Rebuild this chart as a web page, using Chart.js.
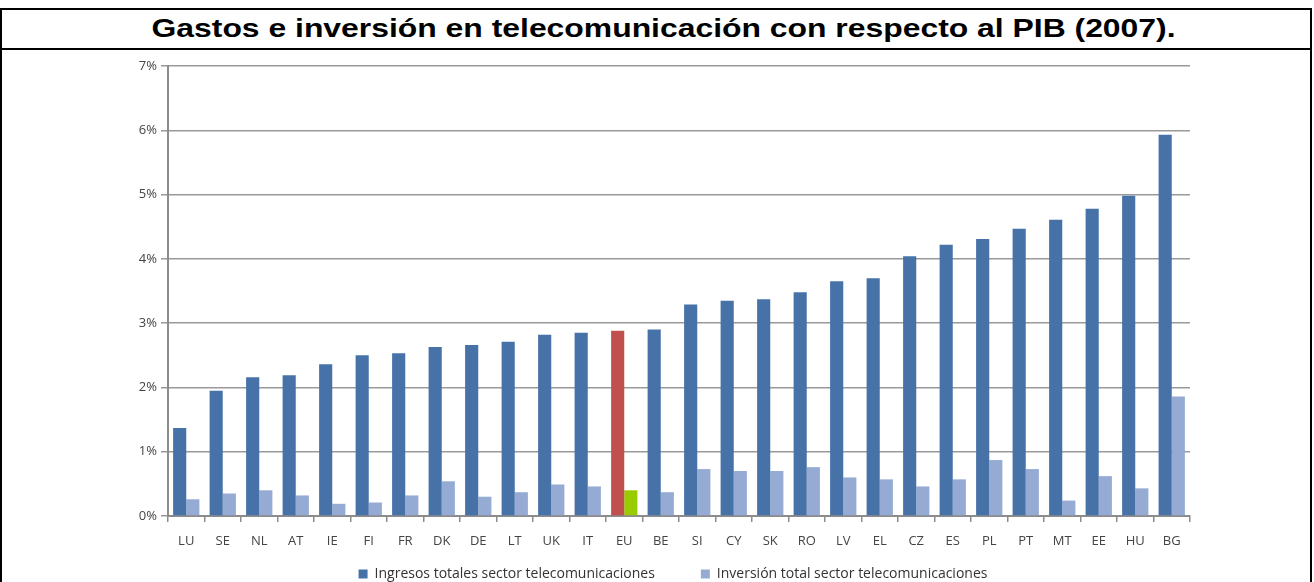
<!DOCTYPE html>
<html>
<head>
<meta charset="utf-8">
<script src="https://cdn.jsdelivr.net/npm/chart.js@4.4.1/dist/chart.umd.min.js"></script>
<style>
    html, body { margin: 0; padding: 0; background: #fff; }
    body { width: 1314px; height: 582px; position: relative; overflow: hidden; }
    #frame {
        position: absolute; left: 0; top: 8px; width: 1308px; height: 600px;
        border: 2px solid #000; box-sizing: content-box;
    }
    #title {
        height: 38px; border-bottom: 2px solid #000; text-align: center;
        font: bold 25px "Liberation Sans", Arial, sans-serif; line-height: 36px; color: #000;
    }
    #title span { display: inline-block; transform-origin: center; }
    #chart { position: absolute; left: 0; top: 0; }
</style>
</head>
<body>
<div id="frame"><div id="title"><span id="titleText">Gastos e inversión en telecomunicación con respecto al PIB (2007).</span></div></div>
<canvas id="chart" width="1314" height="582"></canvas>
<script>
const countries = ['LU', 'SE', 'NL', 'AT', 'IE', 'FI', 'FR', 'DK', 'DE', 'LT', 'UK', 'IT', 'EU', 'BE',
    'SI', 'CY', 'SK', 'RO', 'LV', 'EL', 'CZ', 'ES', 'PL', 'PT', 'MT', 'EE', 'HU', 'BG'];
const ingresos = [1.37, 1.95, 2.16, 2.19, 2.36, 2.50, 2.53, 2.63, 2.66, 2.71, 2.82, 2.85, 2.88, 2.90,
    3.29, 3.35, 3.37, 3.48, 3.65, 3.70, 4.04, 4.22, 4.31, 4.47, 4.61, 4.78, 4.98, 5.93];
const inversion = [0.26, 0.35, 0.40, 0.32, 0.19, 0.21, 0.32, 0.54, 0.30, 0.37, 0.49, 0.46, 0.40, 0.37,
    0.73, 0.70, 0.70, 0.76, 0.60, 0.57, 0.46, 0.57, 0.87, 0.73, 0.24, 0.62, 0.43, 1.86];
const yTicks = [0, 1, 2, 3, 4, 5, 6, 7];

const darkBlue = '#4672a8';
const lightBlue = '#95abd4';
const tickFont = { family: 'Open Sans', size: 13 };

// stretch the title to the width it has in the picture
const t = document.getElementById('titleText');
t.style.transform = 'translateX(8px) scaleX(' + (1024 / t.getBoundingClientRect().width) + ')';

// legend sits closer to the axis labels than chart.js would put it
const legendPlace = {
    id: 'legendPlace',
    afterLayout(chart) {
        const lg = chart.legend;
        lg.top = 521;
        lg.left -= 6;
        lg.right -= 6;
    }
};

const ctx = document.getElementById('chart').getContext('2d');
new Chart(ctx, {
    type: 'bar',
    data: {
        labels: countries,
        datasets: [{
            label: 'Ingresos totales sector telecomunicaciones',
            data: ingresos,
            backgroundColor: countries.map(c => c === 'EU' ? '#c0504d' : darkBlue),
            categoryPercentage: 0.72,
            barPercentage: 1
        }, {
            label: 'Inversión total sector telecomunicaciones',
            data: inversion,
            backgroundColor: countries.map(c => c === 'EU' ? '#99cc00' : lightBlue),
            categoryPercentage: 0.72,
            barPercentage: 1
        }]
    },
    options: {
        responsive: false,
        animation: false,
        layout: { padding: { left: 0, right: 124, top: 66, bottom: 0 } },
        scales: {
            x: {
                grid: { display: true, drawOnChartArea: false, drawTicks: true, tickLength: 6, color: '#8c8c8c', lineWidth: 1.5 },
                border: { display: true, color: '#8c8c8c', width: 2 },
                ticks: { color: '#444', font: tickFont, padding: 11, maxRotation: 0, autoSkip: false },
                afterFit: s => { s.height = 36; }
            },
            y: {
                min: 0,
                max: 7,
                afterBuildTicks: s => { s.ticks = yTicks.map(v => ({ value: v })); },
                grid: { color: '#999', lineWidth: 1.5, tickLength: 7 },
                border: { display: true, color: '#8c8c8c', width: 2 },
                ticks: { color: '#444', font: tickFont, padding: 4, callback: v => v + '%' },
                afterFit: s => { s.width = 168; }
            }
        },
        plugins: {
            legend: {
                position: 'bottom',
                fullSize: false,
                maxHeight: 30,
                labels: {
                    color: '#333',
                    font: { family: 'Open Sans', size: 14 },
                    boxWidth: 9,
                    boxHeight: 9,
                    padding: 46,
                    generateLabels: chart => chart.data.datasets.map((d, i) => ({
                        text: d.label,
                        fillStyle: i === 0 ? darkBlue : lightBlue,
                        strokeStyle: i === 0 ? darkBlue : lightBlue,
                        lineWidth: 0,
                        datasetIndex: i,
                        fontColor: '#333'
                    }))
                }
            },
            tooltip: { enabled: false }
        }
    },
    plugins: [legendPlace]
});
</script>
</body>
</html>
